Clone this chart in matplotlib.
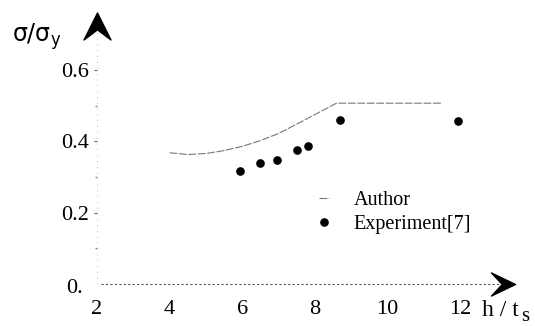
import matplotlib
matplotlib.use("Agg")
import matplotlib.pyplot as plt
from matplotlib.path import Path

# values
author_x = [4.0, 4.5, 5.0, 5.5, 6.0, 6.5, 7.0, 7.5, 8.0, 8.6, 9.0, 10.0, 11.0, 11.5]
author_y = [0.368, 0.363, 0.366, 0.374, 0.386, 0.402, 0.422, 0.448, 0.475, 0.507, 0.507, 0.507, 0.507, 0.507]
exp_x = [5.95, 6.5, 6.95, 7.5, 7.8, 8.7, 11.95]
exp_y = [0.318, 0.34, 0.348, 0.376, 0.388, 0.46, 0.457]
xticks = [2, 4, 6, 8, 10, 12]
yticks = [0.2, 0.4, 0.6]

serif = "Liberation Serif"

fig = plt.figure(figsize=(5.35, 3.26), dpi=100)
ax = fig.add_axes([97 / 535, 42 / 326, 421 / 535, 274.6 / 326])
ax.set_xlim(2, 13.6)
ax.set_ylim(0, 0.77)

ax.plot(author_x, author_y, color="#777777", lw=0.8, ls=(0, (7, 1.5)), label="Author")
ax.plot(exp_x, exp_y, "o", color="black", ms=5.2, label="Experiment[7]")

# axes drawn by hand: dotted lines with arrow heads
for s in ax.spines.values():
    s.set_visible(False)
ax.plot([0.01, 0.955], [0, 0], transform=ax.transAxes, color="#555555",
        lw=0.8, ls=(0, (2, 2)), clip_on=False)
ax.plot([0, 0], [0.0, 0.93], transform=ax.transAxes, color="#aaaaaa",
        lw=0.6, ls=(0, (1, 6)), clip_on=False)

up = Path([(0, 0.5), (0.5, -0.5), (0, -0.125), (-0.5, -0.5), (0, 0.5)],
          [Path.MOVETO, Path.LINETO, Path.LINETO, Path.LINETO, Path.CLOSEPOLY])
right = Path([(0.5, 0), (-0.5, 0.48), (-0.05, 0), (-0.5, -0.48), (0.5, 0)],
             [Path.MOVETO, Path.LINETO, Path.LINETO, Path.LINETO, Path.CLOSEPOLY])
ax.plot([0], [0.94], marker=up, ms=19.4, color="black", transform=ax.transAxes, clip_on=False)
ax.plot([0.964], [0.0], marker=right, ms=17.3, color="black", transform=ax.transAxes, clip_on=False)

ax.set_xticks(xticks)
ax.set_xticklabels([str(t) for t in xticks], fontfamily=serif, fontsize=16)
ax.tick_params(axis="x", length=0, pad=11.5)
ax.set_yticks(yticks)
ax.set_yticklabels(["%.1f" % t for t in yticks], fontfamily=serif, fontsize=16)
ax.set_yticks([0.1, 0.3, 0.5], minor=True)
ax.tick_params(axis="y", which="major", length=2.5, width=0.8, color="#666666", pad=3)
ax.tick_params(axis="y", which="minor", length=1.2, width=1.0, color="#888888")
ax.text(-0.033, -0.025, "0.", transform=ax.get_yaxis_transform(), ha="right", va="baseline",
        fontfamily=serif, fontsize=16)

fig.text(12 / 535, 1 - 37 / 326, r"$\mathregular{\sigma/\sigma_y}$", fontsize=17,
         ha="left", va="center")
fig.text(482 / 535, 1 - 316 / 326, "h / t", fontsize=17,
         fontfamily=serif, ha="left", va="baseline")
fig.text(521 / 535, 1 - 321 / 326, "s", fontsize=15,
         fontfamily=serif, ha="left", va="baseline")

ax.legend(loc="upper left", bbox_to_anchor=(309 / 535, 1 - 181 / 326),
          bbox_transform=fig.transFigure, frameon=False, borderpad=0,
          handlelength=0.5, handletextpad=1.2, labelspacing=0.25,
          prop={"family": serif, "size": 14.5})

fig.savefig("out.png", dpi=100)
